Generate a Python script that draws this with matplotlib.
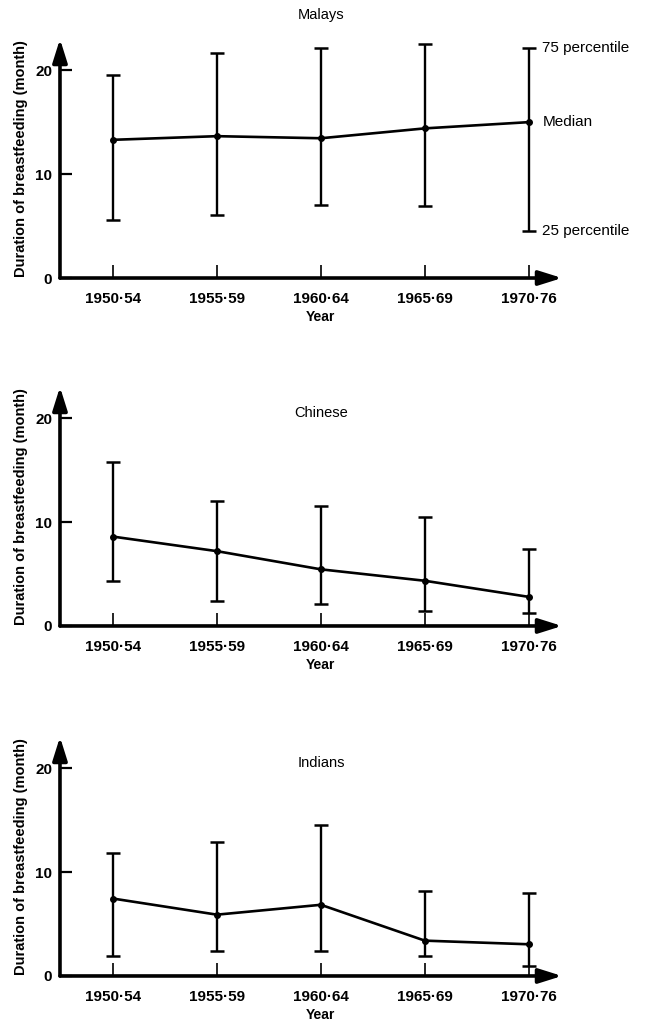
import numpy as np
import matplotlib.pyplot as plt

plt.rcParams['font.family'] = ['Liberation Sans', 'DejaVu Sans']

# data to plot
periods = ['1950·54', '1955·59', '1960·64', '1965·69', '1970·76']

malays_median = [13.3, 13.65, 13.45, 14.4, 15.0]
malays_p25 = [5.6, 6.05, 7.0, 6.9, 4.5]
malays_p75 = [19.5, 21.7, 22.1, 22.55, 22.1]

chinese_median = [8.6, 7.2, 5.45, 4.35, 2.8]
chinese_p25 = [4.35, 2.4, 2.1, 1.45, 1.25]
chinese_p75 = [15.8, 12.0, 11.5, 10.5, 7.4]

indians_median = [7.45, 5.9, 6.85, 3.4, 3.05]
indians_p25 = [1.9, 2.4, 2.4, 1.95, 1.0]
indians_p75 = [11.85, 12.9, 14.5, 8.15, 7.95]

groups = [
    ('Malays', malays_median, malays_p25, malays_p75),
    ('Chinese', chinese_median, chinese_p25, chinese_p75),
    ('Indians', indians_median, indians_p25, indians_p75),
]

fig = plt.figure(figsize=(6.52, 10.24), dpi=100)
bottoms = [0.7285, 0.3887, 0.0469]
x = np.arange(len(periods))

axes = []
for (name, med, p25, p75), b in zip(groups, bottoms):
    ax = fig.add_axes([0.092, b, 0.770, 0.2334])
    med = np.array(med)
    lo = med - np.array(p25)
    hi = np.array(p75) - med
    ax.errorbar(x, med, yerr=[lo, hi], fmt='-o', color='k', lw=1.9, ms=4,
                elinewidth=1.7, capsize=5, capthick=1.8)

    ax.set_xlim(-0.51, 4.32)
    ax.set_ylim(0, 23)
    for s in ax.spines.values():
        s.set_visible(False)

    # arrow axes
    arrow = dict(arrowstyle='-|>,head_length=0.7,head_width=0.22', lw=2.6,
                 color='k', mutation_scale=20, shrinkA=0, shrinkB=0)
    ax.annotate('', xy=(1, 0), xytext=(0, 0), xycoords='axes fraction',
                arrowprops=arrow, annotation_clip=False)
    ax.annotate('', xy=(0, 1), xytext=(0, 0), xycoords='axes fraction',
                arrowprops=arrow, annotation_clip=False)

    ax.set_xticks(x)
    ax.set_xticklabels(periods, fontweight='bold', fontsize=11)
    ax.tick_params(axis='x', direction='in', length=9.5, width=1.2, pad=10)
    ax.set_yticks([0, 10, 20])
    ax.set_yticklabels(['0', '10', '20'], fontweight='bold', fontsize=11)
    ax.tick_params(axis='y', direction='in', length=8.5, width=1.6, pad=5.5)

    ax.text(-0.078, 0.5, 'Duration of breastfeeding (month)', transform=ax.transAxes,
            rotation=90, ha='center', va='center', fontsize=10.5, fontweight='bold')
    ax.text(2, -3.75, 'Year', ha='center', va='center', fontsize=10, fontweight='bold')

    if name == 'Malays':
        ax.text(2, 25.3, name, ha='center', va='center', fontsize=10.5)
    else:
        ax.text(2, 20.5, name, ha='center', va='center', fontsize=10.5)
    axes.append(ax)

# key on the first panel
ax1 = axes[0]
ax1.text(4.13, malays_p75[-1], '75 percentile', ha='left', va='center', fontsize=11)
ax1.text(4.13, malays_median[-1], 'Median', ha='left', va='center', fontsize=11)
ax1.text(4.13, malays_p25[-1], '25 percentile', ha='left', va='center', fontsize=11)

plt.savefig('out.png', dpi=100)
